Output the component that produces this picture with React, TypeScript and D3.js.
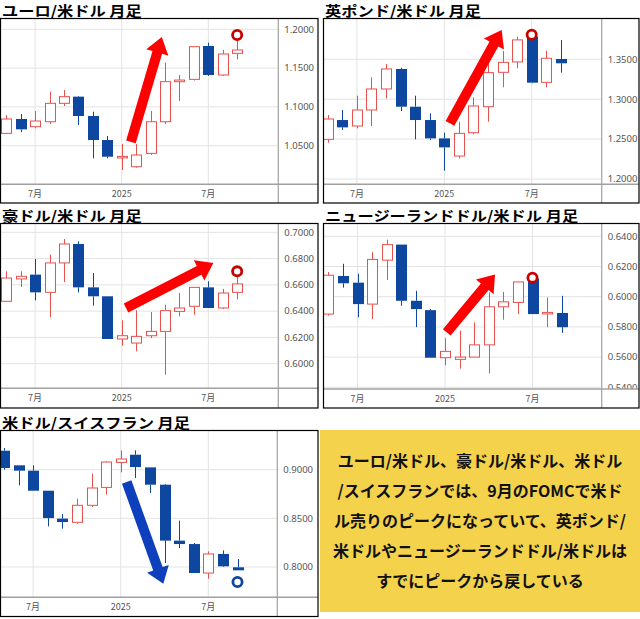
import React from "react";
import * as d3 from "d3";

// ---- shared axis data ----
const months = ["2024-05","2024-06","2024-07","2024-08","2024-09","2024-10","2024-11","2024-12","2025-01","2025-02","2025-03","2025-04","2025-05","2025-06","2025-07","2025-08","2025-09"];
const xTickIndex = [2, 8, 14];
const xTickLabels = ["7月", "2025", "7月"];

// ---- EUR/USD ----
const eurOpen  = [1.0659,1.0844,1.0745,1.0809,1.1046,1.1132,1.0883,1.0573,1.0355,1.0229,1.0401,1.0809,1.1325,1.1355,1.1785,1.1411,1.1690];
const eurHigh  = [1.0895,1.0908,1.0947,1.1196,1.1218,1.1140,1.0938,1.0625,1.0521,1.0521,1.0947,1.1570,1.1411,1.1776,1.1828,1.1734,1.1900];
const eurLow   = [1.0650,1.0676,1.0723,1.0779,1.1011,1.0766,1.0337,1.0337,1.0186,1.0216,1.0380,1.0779,1.1076,1.1340,1.1400,1.1398,1.1613];
const eurClose = [1.0844,1.0711,1.0818,1.1046,1.1132,1.0883,1.0573,1.0358,1.0362,1.0380,1.0809,1.1325,1.1346,1.1776,1.1411,1.1682,1.1733];
const eurTicks = [1.05, 1.10, 1.15, 1.20];

// ---- GBP/USD ----
const gbpOpen  = [1.2497,1.2739,1.2664,1.2865,1.3128,1.3379,1.2906,1.2739,1.2509,1.2288,1.2580,1.2906,1.3337,1.3467,1.3784,1.3211,1.3504];
const gbpHigh  = [1.2802,1.2865,1.3044,1.3274,1.3441,1.3395,1.3044,1.2823,1.2580,1.2718,1.3023,1.3450,1.3604,1.3784,1.3790,1.3609,1.3742];
const gbpLow   = [1.2455,1.2614,1.2635,1.2664,1.3011,1.2852,1.2497,1.2488,1.2104,1.2259,1.2560,1.2718,1.3149,1.3387,1.3200,1.3149,1.3333];
const gbpClose = [1.2752,1.2647,1.2865,1.3128,1.3379,1.2906,1.2739,1.2509,1.2396,1.2572,1.2915,1.3333,1.3462,1.3743,1.3207,1.3513,1.3450];
const gbpTicks = [1.20, 1.25, 1.30, 1.35];

// ---- AUD/USD ----
const audOpen  = [0.6475,0.6645,0.6678,0.6543,0.6767,0.6911,0.6581,0.6513,0.6188,0.6157,0.6213,0.6246,0.6398,0.6437,0.6581,0.6424,0.6543];
const audHigh  = [0.6703,0.6703,0.6797,0.6830,0.6949,0.6931,0.6690,0.6513,0.6330,0.6406,0.6393,0.6449,0.6538,0.6581,0.6627,0.6569,0.6690];
const audLow   = [0.6470,0.6584,0.6482,0.6353,0.6622,0.6543,0.6442,0.6188,0.6137,0.6094,0.6195,0.5916,0.6360,0.6373,0.6424,0.6416,0.6490];
const audClose = [0.6652,0.6665,0.6543,0.6767,0.6911,0.6581,0.6513,0.6188,0.6213,0.6208,0.6246,0.6404,0.6424,0.6581,0.6424,0.6538,0.6607];
const audTicks = [0.60, 0.62, 0.64, 0.66, 0.68, 0.70];

// ---- NZD/USD ----
const nzdOpen  = [0.5885,0.6137,0.6093,0.5951,0.6242,0.6345,0.5973,0.5911,0.5596,0.5585,0.5600,0.5681,0.5933,0.5962,0.6120,0.5892,0.5892];
const nzdHigh  = [0.6163,0.6218,0.6152,0.6295,0.6378,0.6345,0.6039,0.5918,0.5725,0.5776,0.5830,0.6028,0.6032,0.6098,0.6126,0.5995,0.6006];
const nzdLow   = [0.5874,0.6060,0.5863,0.5852,0.6111,0.5940,0.5798,0.5596,0.5546,0.5524,0.5600,0.5491,0.5848,0.5885,0.5885,0.5798,0.5760];
const nzdClose = [0.6142,0.6089,0.5951,0.6247,0.6345,0.5973,0.5918,0.5596,0.5638,0.5600,0.5681,0.5933,0.5966,0.6098,0.5885,0.5896,0.5798];
const nzdTicks = [0.54, 0.56, 0.58, 0.60, 0.62, 0.64];

// ---- USD/CHF ----
const chfOpen  = [0.9195,0.9045,0.8990,0.8784,0.8497,0.8459,0.8634,0.8818,0.9075,0.9154,0.9024,0.8846,0.8271,0.8236,0.7938,0.8134,0.7997];
const chfHigh  = [0.9223,0.9045,0.9045,0.8784,0.8545,0.8702,0.8959,0.9086,0.9199,0.9199,0.9024,0.8853,0.8476,0.8247,0.8161,0.8171,0.8082];
const chfLow   = [0.9000,0.8839,0.8784,0.8418,0.8394,0.8445,0.8616,0.8743,0.8973,0.8914,0.8760,0.8041,0.8195,0.7938,0.7880,0.8000,0.7966];
const chfClose = [0.9017,0.8990,0.8784,0.8503,0.8462,0.8634,0.8812,0.9079,0.9110,0.9027,0.8846,0.8271,0.8236,0.7938,0.8134,0.8007,0.7966];
const chfTicks = [0.80, 0.85, 0.90];

// ---- annotations: peak markers and arrows (index, value) ----
const titles = ["ユーロ/米ドル 月足", "英ポンド/米ドル 月足", "豪ドル/米ドル 月足", "ニュージーランドドル/米ドル 月足", "米ドル/スイスフラン 月足"];
const peakIndex = [16, 14, 16, 14, 16];
const peakValue = [1.1927, 1.3807, 0.6703, 0.6126, 0.7846];
const arrowFromIndex = [8.64, 8.39, 8.30, 8.12, 8.41];
const arrowFromValue = [1.055, 1.2698, 0.6424, 0.5764, 0.8874];
const arrowToIndex = [10.78, 11.94, 14.35, 11.43, 10.92];
const arrowToValue = [1.190, 1.3867, 0.6766, 0.6147, 0.7827];

const noteLines = [
  "ユーロ/米ドル、豪ドル/米ドル、米ドル",
  "/スイスフランでは、9月のFOMCで米ド",
  "ル売りのピークになっていて、英ポンド/",
  "米ドルやニュージーランドドル/米ドルは",
  "すでにピークから戻している",
];

// ---- layout (page pixels) ----
type Layout = {
  x1: number; y1: number; x2: number; y2: number; sepX: number; axisY: number;
  xa: [number, number]; ya: [number, number]; yv: [number, number]; tickFmt: string;
};
const layouts: Layout[] = [
  { x1: 0.5, y1: 18.5, x2: 318, y2: 203, sepX: 278.3, axisY: 184.3, xa: [121.7, 208.3], ya: [29.3, 145.7], yv: [1.2, 1.05], tickFmt: ".4f" },
  { x1: 323.5, y1: 18.5, x2: 639, y2: 203, sepX: 601.7, axisY: 184.3, xa: [444.3, 531.7], ya: [59.3, 179], yv: [1.35, 1.2], tickFmt: ".4f" },
  { x1: 0.5, y1: 223.5, x2: 318, y2: 408, sepX: 278.3, axisY: 388.3, xa: [121.7, 208.3], ya: [232.3, 363.7], yv: [0.7, 0.6], tickFmt: ".4f" },
  { x1: 323.5, y1: 223.5, x2: 639, y2: 408, sepX: 601.7, axisY: 389, xa: [445, 532.5], ya: [236.3, 387.3], yv: [0.64, 0.54], tickFmt: ".4f" },
  { x1: 0.5, y1: 430.5, x2: 318, y2: 616.5, sepX: 277.3, axisY: 597.3, xa: [120.7, 208.3], ya: [469.7, 567], yv: [0.9, 0.8], tickFmt: ".4f" },
];

const series = [
  { o: eurOpen, h: eurHigh, l: eurLow, c: eurClose, ticks: eurTicks },
  { o: gbpOpen, h: gbpHigh, l: gbpLow, c: gbpClose, ticks: gbpTicks },
  { o: audOpen, h: audHigh, l: audLow, c: audClose, ticks: audTicks },
  { o: nzdOpen, h: nzdHigh, l: nzdLow, c: nzdClose, ticks: nzdTicks },
  { o: chfOpen, h: chfHigh, l: chfLow, c: chfClose, ticks: chfTicks },
];

const UP = "#e8504c";
const DOWN = "#0d479f";
const RED_ARROW = "#ff0000";
const BLUE_ARROW = "#0e3fbd";
const FONT = "'Noto Sans CJK JP', 'Noto Sans', sans-serif";

function arrowPath(x1: number, y1: number, x2: number, y2: number) {
  const dx = x2 - x1, dy = y2 - y1;
  const len = Math.hypot(dx, dy);
  const ux = dx / len, uy = dy / len;
  const nx = -uy, ny = ux;
  const sw = 5, hw = 11.5, hl = 16;
  const bx = x2 - ux * hl, by = y2 - uy * hl;
  const pts = [
    [x1 + nx * sw, y1 + ny * sw],
    [bx + nx * sw, by + ny * sw],
    [bx + nx * hw, by + ny * hw],
    [x2, y2],
    [bx - nx * hw, by - ny * hw],
    [bx - nx * sw, by - ny * sw],
    [x1 - nx * sw, y1 - ny * sw],
  ];
  return "M" + pts.map((p) => p[0].toFixed(2) + "," + p[1].toFixed(2)).join("L") + "Z";
}

function Panel({ k }: { k: number }) {
  const L = layouts[k];
  const S = series[k];
  const x = d3.scaleLinear().domain([8, 14]).range(L.xa);
  const y = d3.scaleLinear().domain(L.yv).range(L.ya);
  const fmt = d3.format(L.tickFmt);
  const clipId = "clip" + k;
  const bodyW = 10;
  const isBlue = k === 4;
  const ax1 = x(arrowFromIndex[k]), ay1 = y(arrowFromValue[k]);
  const ax2 = x(arrowToIndex[k]), ay2 = y(arrowToValue[k]);
  return (
    <g>
      <defs>
        <clipPath id={clipId}>
          <rect x={L.x1} y={L.y1} width={L.sepX - L.x1} height={L.axisY - L.y1} />
        </clipPath>
        <clipPath id={clipId + "lab"}>
          <rect x={L.sepX} y={L.y1} width={L.x2 - L.sepX} height={L.axisY - L.y1} />
        </clipPath>
      </defs>
      <text transform={`translate(${L.x1 + 1.5},${L.y1 - 2.2}) scale(1.16,1)`} fontFamily={FONT} fontWeight={700} fontSize={14} fill="#000">
        {titles[k]}
      </text>
      <rect x={L.x1} y={L.y1} width={L.x2 - L.x1} height={L.y2 - L.y1} fill="#fff" />
      <g clipPath={`url(#${clipId})`}>
        {S.ticks.map((t, i) => (
          <line key={"h" + i} x1={L.x1} x2={L.sepX} y1={y(t)} y2={y(t)} stroke="#e3e3e3" strokeWidth={1} />
        ))}
        {xTickIndex.map((t, i) => (
          <line key={"v" + i} x1={x(t)} x2={x(t)} y1={L.y1} y2={L.axisY} stroke="#e3e3e3" strokeWidth={1} />
        ))}
        {months.map((m, i) => {
          const o = S.o[i], c = S.c[i], h = S.h[i], l = S.l[i];
          const up = c >= o;
          const cx = Math.round(x(i)) + 0.5;
          const top = y(Math.max(o, c));
          const bot = y(Math.min(o, c));
          const col = up ? UP : DOWN;
          return (
            <g key={m}>
              <line x1={cx} x2={cx} y1={y(h)} y2={top} stroke={col} strokeWidth={1} />
              <line x1={cx} x2={cx} y1={bot} y2={y(l)} stroke={col} strokeWidth={1} />
              {up ? (
                <rect x={cx - bodyW / 2} y={top} width={bodyW} height={Math.max(bot - top, 1.5)} fill="#fff" stroke={col} strokeWidth={1} />
              ) : (
                <rect x={cx - bodyW / 2 - 0.5} y={top} width={bodyW + 1} height={Math.max(bot - top, 1.5)} fill={col} />
              )}
            </g>
          );
        })}
      </g>
      {/* y labels */}
      <g clipPath={`url(#${clipId}lab)`}>
        {S.ticks.map((t, i) => (
          <text key={"yl" + i} x={L.sepX + 6} y={y(t)} dy="0.35em" fontFamily="'Noto Sans', sans-serif" fontSize={9.5} fill="#555">
            {fmt(t)}
          </text>
        ))}
      </g>
      {xTickIndex.map((t, i) => (
        <text key={"xl" + i} x={x(t)} y={L.axisY + 9.5} dy="0.35em" textAnchor="middle" fontFamily={FONT} fontSize={9} fill="#555">
          {xTickLabels[i]}
        </text>
      ))}
      <line x1={L.sepX} x2={L.sepX} y1={L.y1} y2={L.y2} stroke="#a8a8a8" strokeWidth={1.3} />
      <line x1={L.x1} x2={L.x2} y1={L.axisY} y2={L.axisY} stroke="#a0a0a0" strokeWidth={1.6} />
      {/* annotations */}
      <path d={arrowPath(ax1, ay1, ax2, ay2)} fill={isBlue ? BLUE_ARROW : RED_ARROW} />
      <circle cx={x(peakIndex[k])} cy={y(peakValue[k])} r={4.6} fill="#fff" stroke={isBlue ? DOWN : "#c80000"} strokeWidth={2.8} />
      <rect x={L.x1} y={L.y1} width={L.x2 - L.x1} height={L.y2 - L.y1} fill="none" stroke="#000" strokeWidth={1.2} />
    </g>
  );
}

export default function App() {
  const boxX = 320, boxY = 430, boxW = 320, boxH = 182;
  const lineY = d3.scaleLinear().domain([0, noteLines.length - 1]).range([461, 581]);
  return (
    <svg width={640} height={619} style={{ position: "absolute", left: 0, top: 0, background: "#fff" }}>
      <rect x={0} y={0} width={640} height={619} fill="#fff" />
      {layouts.map((_, k) => (
        <Panel key={k} k={k} />
      ))}
      <rect x={boxX} y={boxY} width={boxW} height={boxH} fill="#f4d24c" />
      {noteLines.map((s, i) => (
        <text key={i} x={boxX + boxW / 2} y={lineY(i)} dy="0.36em" textAnchor="middle" fontFamily={FONT} fontWeight={700} fontSize={16} fill="#111">
          {s}
        </text>
      ))}
    </svg>
  );
}
